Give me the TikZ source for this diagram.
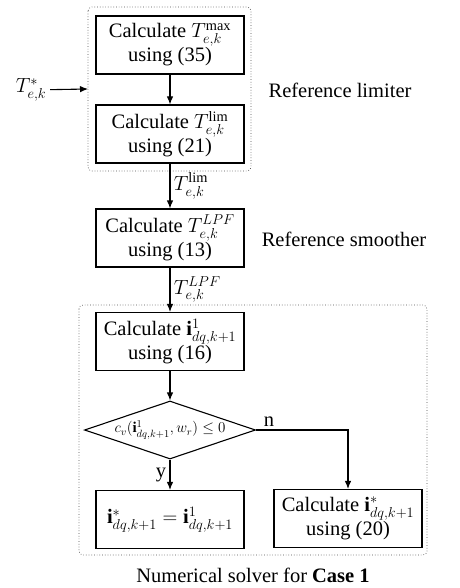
\RequirePackage{fix-cm}
\documentclass[tikz,border=0pt]{standalone}
\usepackage{amsmath,amssymb}
\usepackage{fontspec}
\setmainfont{Liberation Serif}
\usetikzlibrary{%
  arrows.meta,%
  shapes.geometric,% wg. diamond
  positioning% wg. " of "
}

\begin{document}
\begin{tikzpicture}[
  x=1pt, y=-1pt,
  font=\fontsize{20.5}{24}\selectfont,
  >={Latex[length=8pt,width=6.5pt]},
  line width=1.1pt,
  block/.style={draw, minimum width=148pt, minimum height=58pt, align=center, inner sep=2pt},
  decide/.style={draw, diamond, aspect=2.95, minimum width=171pt, minimum height=58pt,
    inner sep=0pt, font=\fontsize{15}{18}\selectfont},
  group/.style={draw=black!70, dotted, line width=0.7pt, rounded corners=4pt},
]
\useasboundingbox (0,0) rectangle (459,588);

% frames
\draw[group] (88,7) rectangle (251,171);
\draw[group] (79,305) rectangle (427,555);

% blocks
\node[block] (tmax) at (170,45) {Calculate $T_{e,k}^{\max}$\\using (35)};
\node[block] (tlim) at (170,134) {Calculate $T_{e,k}^{\mathrm{lim}}$\\using (21)};
\node[block] (tlpf) at (170,238) {Calculate $T_{e,k}^{LPF}$\\using (13)};
\node[block] (ione) at (170,341.5) {Calculate $\mathbf{i}_{dq,k+1}^{1}$\\using (16)};
\node[decide] (check) at (170,430) {$c_v(\mathbf{i}_{dq,k+1}^{1},w_r)\le 0$};
\node[block] (iset) at (170,519.5) {$\mathbf{i}_{dq,k+1}^{*}=\mathbf{i}_{dq,k+1}^{1}$};
\node[block] (icalc) at (348,518.5) {Calculate $\mathbf{i}_{dq,k+1}^{*}$\\using (20)};

% labels
\node (tstar) at (31,90) {$T_{e,k}^{*}$};
\coordinate (limin) at (88,89);
\node (limlabel) at (340,90) {Reference limiter};
\node (smlabel) at (344,239) {Reference smoother};
\node (caption) at (253,575) {Numerical solver for \textbf{Case 1}};

% connectors
\draw [->] (tstar) -- (limin);
\draw [->] (tmax) -- (tlim);
\draw [->] (tlim) -- node[right] {$T_{e,k}^{\mathrm{lim}}$} (tlpf);
\draw [->] (tlpf) -- node[right] {$T_{e,k}^{LPF}$} (ione);
\draw [->] (ione) -- (check);
\draw [->] (check) -- node[left] {y} (iset);
\draw [->] (check) -| node[pos=0.07, above] {n} (icalc);

\end{tikzpicture}
\end{document}
